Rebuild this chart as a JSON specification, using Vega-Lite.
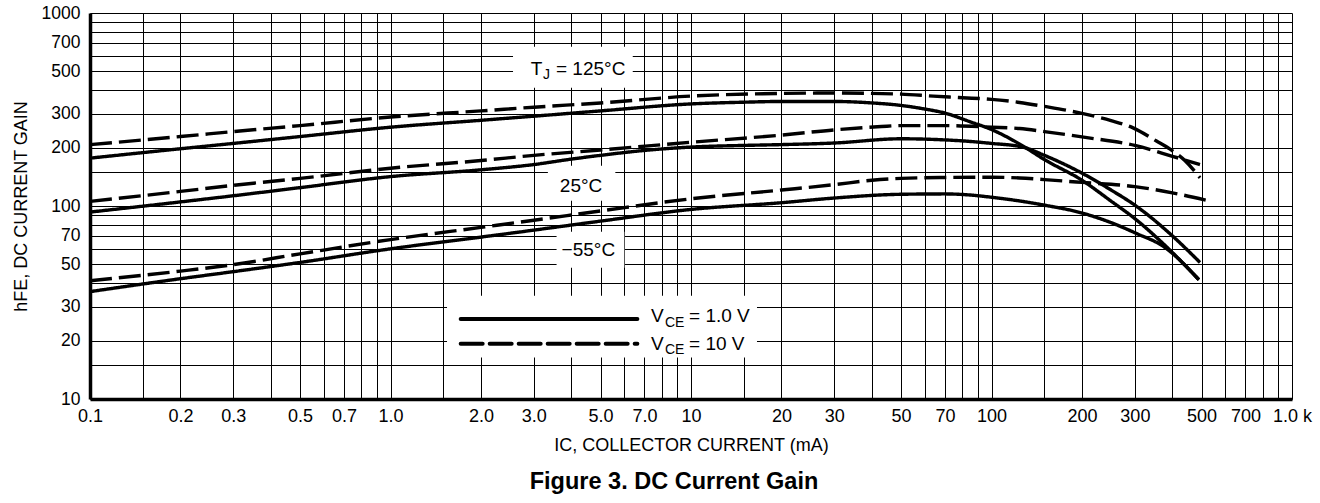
{
  "$schema": "https://vega.github.io/schema/vega-lite/v6.json",
  "width": 1202,
  "height": 386,
  "autosize": {"type": "none"},
  "padding": {"left": 90, "top": 13, "right": 28, "bottom": 104},
  "background": "white",
  "config": {"view": {"stroke": null}, "font": "Liberation Sans"},
  "title": {
    "text": "Figure 3. DC Current Gain",
    "orient": "bottom",
    "anchor": "middle",
    "font": "Liberation Sans",
    "fontSize": 23.5,
    "fontWeight": "bold",
    "color": "black",
    "offset": 16,
    "dx": -17
  },
  "datasets": {
    "curves": [
      {"temp": "125", "vce": "1.0", "ic": 0.1, "hfe": 177},
      {"temp": "125", "vce": "1.0", "ic": 0.2, "hfe": 198},
      {"temp": "125", "vce": "1.0", "ic": 0.3, "hfe": 211},
      {"temp": "125", "vce": "1.0", "ic": 0.5, "hfe": 229},
      {"temp": "125", "vce": "1.0", "ic": 1, "hfe": 256},
      {"temp": "125", "vce": "1.0", "ic": 2, "hfe": 278},
      {"temp": "125", "vce": "1.0", "ic": 3, "hfe": 292},
      {"temp": "125", "vce": "1.0", "ic": 5, "hfe": 311},
      {"temp": "125", "vce": "1.0", "ic": 10, "hfe": 338},
      {"temp": "125", "vce": "1.0", "ic": 15, "hfe": 345},
      {"temp": "125", "vce": "1.0", "ic": 20, "hfe": 348},
      {"temp": "125", "vce": "1.0", "ic": 30, "hfe": 348},
      {"temp": "125", "vce": "1.0", "ic": 40, "hfe": 342},
      {"temp": "125", "vce": "1.0", "ic": 50, "hfe": 332},
      {"temp": "125", "vce": "1.0", "ic": 60, "hfe": 318},
      {"temp": "125", "vce": "1.0", "ic": 70, "hfe": 303},
      {"temp": "125", "vce": "1.0", "ic": 85, "hfe": 273},
      {"temp": "125", "vce": "1.0", "ic": 100, "hfe": 249},
      {"temp": "125", "vce": "1.0", "ic": 125, "hfe": 208},
      {"temp": "125", "vce": "1.0", "ic": 150, "hfe": 174},
      {"temp": "125", "vce": "1.0", "ic": 200, "hfe": 136},
      {"temp": "125", "vce": "1.0", "ic": 250, "hfe": 106},
      {"temp": "125", "vce": "1.0", "ic": 300, "hfe": 86},
      {"temp": "125", "vce": "1.0", "ic": 380, "hfe": 62},
      {"temp": "125", "vce": "1.0", "ic": 490, "hfe": 41.5},

      {"temp": "125", "vce": "10", "ic": 0.1, "hfe": 208},
      {"temp": "125", "vce": "10", "ic": 0.2, "hfe": 229},
      {"temp": "125", "vce": "10", "ic": 0.3, "hfe": 243},
      {"temp": "125", "vce": "10", "ic": 0.5, "hfe": 261},
      {"temp": "125", "vce": "10", "ic": 1, "hfe": 289},
      {"temp": "125", "vce": "10", "ic": 2, "hfe": 311},
      {"temp": "125", "vce": "10", "ic": 3, "hfe": 325},
      {"temp": "125", "vce": "10", "ic": 5, "hfe": 342},
      {"temp": "125", "vce": "10", "ic": 10, "hfe": 371},
      {"temp": "125", "vce": "10", "ic": 20, "hfe": 383},
      {"temp": "125", "vce": "10", "ic": 30, "hfe": 385},
      {"temp": "125", "vce": "10", "ic": 50, "hfe": 380},
      {"temp": "125", "vce": "10", "ic": 64, "hfe": 371},
      {"temp": "125", "vce": "10", "ic": 80, "hfe": 364},
      {"temp": "125", "vce": "10", "ic": 100, "hfe": 357},
      {"temp": "125", "vce": "10", "ic": 124, "hfe": 344},
      {"temp": "125", "vce": "10", "ic": 150, "hfe": 328},
      {"temp": "125", "vce": "10", "ic": 200, "hfe": 302},
      {"temp": "125", "vce": "10", "ic": 250, "hfe": 277},
      {"temp": "125", "vce": "10", "ic": 296, "hfe": 254},
      {"temp": "125", "vce": "10", "ic": 354, "hfe": 217},
      {"temp": "125", "vce": "10", "ic": 393, "hfe": 197},
      {"temp": "125", "vce": "10", "ic": 440, "hfe": 172},
      {"temp": "125", "vce": "10", "ic": 494, "hfe": 140},

      {"temp": "25", "vce": "1.0", "ic": 0.1, "hfe": 93},
      {"temp": "25", "vce": "1.0", "ic": 0.2, "hfe": 105},
      {"temp": "25", "vce": "1.0", "ic": 0.3, "hfe": 113},
      {"temp": "25", "vce": "1.0", "ic": 0.5, "hfe": 124.5},
      {"temp": "25", "vce": "1.0", "ic": 1, "hfe": 142},
      {"temp": "25", "vce": "1.0", "ic": 2, "hfe": 154},
      {"temp": "25", "vce": "1.0", "ic": 3, "hfe": 164},
      {"temp": "25", "vce": "1.0", "ic": 4, "hfe": 175},
      {"temp": "25", "vce": "1.0", "ic": 5, "hfe": 183},
      {"temp": "25", "vce": "1.0", "ic": 7, "hfe": 194},
      {"temp": "25", "vce": "1.0", "ic": 10, "hfe": 202},
      {"temp": "25", "vce": "1.0", "ic": 15, "hfe": 206},
      {"temp": "25", "vce": "1.0", "ic": 20, "hfe": 208},
      {"temp": "25", "vce": "1.0", "ic": 30, "hfe": 212},
      {"temp": "25", "vce": "1.0", "ic": 50, "hfe": 223},
      {"temp": "25", "vce": "1.0", "ic": 70, "hfe": 220},
      {"temp": "25", "vce": "1.0", "ic": 85, "hfe": 216},
      {"temp": "25", "vce": "1.0", "ic": 100, "hfe": 211},
      {"temp": "25", "vce": "1.0", "ic": 127, "hfe": 202},
      {"temp": "25", "vce": "1.0", "ic": 150, "hfe": 183},
      {"temp": "25", "vce": "1.0", "ic": 200, "hfe": 148},
      {"temp": "25", "vce": "1.0", "ic": 250, "hfe": 121},
      {"temp": "25", "vce": "1.0", "ic": 300, "hfe": 101},
      {"temp": "25", "vce": "1.0", "ic": 400, "hfe": 70},
      {"temp": "25", "vce": "1.0", "ic": 494, "hfe": 51},

      {"temp": "25", "vce": "10", "ic": 0.1, "hfe": 105.6},
      {"temp": "25", "vce": "10", "ic": 0.2, "hfe": 119},
      {"temp": "25", "vce": "10", "ic": 0.3, "hfe": 128},
      {"temp": "25", "vce": "10", "ic": 0.5, "hfe": 139},
      {"temp": "25", "vce": "10", "ic": 1, "hfe": 157},
      {"temp": "25", "vce": "10", "ic": 2, "hfe": 172},
      {"temp": "25", "vce": "10", "ic": 3, "hfe": 183},
      {"temp": "25", "vce": "10", "ic": 5, "hfe": 195},
      {"temp": "25", "vce": "10", "ic": 10, "hfe": 214},
      {"temp": "25", "vce": "10", "ic": 20, "hfe": 233},
      {"temp": "25", "vce": "10", "ic": 30, "hfe": 248},
      {"temp": "25", "vce": "10", "ic": 43, "hfe": 258},
      {"temp": "25", "vce": "10", "ic": 50, "hfe": 261},
      {"temp": "25", "vce": "10", "ic": 70, "hfe": 261},
      {"temp": "25", "vce": "10", "ic": 100, "hfe": 256},
      {"temp": "25", "vce": "10", "ic": 124, "hfe": 252},
      {"temp": "25", "vce": "10", "ic": 150, "hfe": 243},
      {"temp": "25", "vce": "10", "ic": 200, "hfe": 228},
      {"temp": "25", "vce": "10", "ic": 300, "hfe": 206},
      {"temp": "25", "vce": "10", "ic": 400, "hfe": 181},
      {"temp": "25", "vce": "10", "ic": 494, "hfe": 164},

      {"temp": "-55", "vce": "1.0", "ic": 0.1, "hfe": 36},
      {"temp": "-55", "vce": "1.0", "ic": 0.2, "hfe": 42},
      {"temp": "-55", "vce": "1.0", "ic": 0.3, "hfe": 45.7},
      {"temp": "-55", "vce": "1.0", "ic": 0.5, "hfe": 51},
      {"temp": "-55", "vce": "1.0", "ic": 1, "hfe": 60},
      {"temp": "-55", "vce": "1.0", "ic": 2, "hfe": 69},
      {"temp": "-55", "vce": "1.0", "ic": 3, "hfe": 75},
      {"temp": "-55", "vce": "1.0", "ic": 5, "hfe": 83.5},
      {"temp": "-55", "vce": "1.0", "ic": 10, "hfe": 96},
      {"temp": "-55", "vce": "1.0", "ic": 20, "hfe": 104},
      {"temp": "-55", "vce": "1.0", "ic": 30, "hfe": 110},
      {"temp": "-55", "vce": "1.0", "ic": 50, "hfe": 115},
      {"temp": "-55", "vce": "1.0", "ic": 70, "hfe": 115.5},
      {"temp": "-55", "vce": "1.0", "ic": 85, "hfe": 114},
      {"temp": "-55", "vce": "1.0", "ic": 100, "hfe": 111},
      {"temp": "-55", "vce": "1.0", "ic": 125, "hfe": 106},
      {"temp": "-55", "vce": "1.0", "ic": 150, "hfe": 101},
      {"temp": "-55", "vce": "1.0", "ic": 200, "hfe": 92},
      {"temp": "-55", "vce": "1.0", "ic": 250, "hfe": 82},
      {"temp": "-55", "vce": "1.0", "ic": 304, "hfe": 72},
      {"temp": "-55", "vce": "1.0", "ic": 373, "hfe": 61.8},
      {"temp": "-55", "vce": "1.0", "ic": 490, "hfe": 41.5},

      {"temp": "-55", "vce": "10", "ic": 0.1, "hfe": 41},
      {"temp": "-55", "vce": "10", "ic": 0.2, "hfe": 46},
      {"temp": "-55", "vce": "10", "ic": 0.3, "hfe": 49.7},
      {"temp": "-55", "vce": "10", "ic": 0.5, "hfe": 56.5},
      {"temp": "-55", "vce": "10", "ic": 1, "hfe": 67},
      {"temp": "-55", "vce": "10", "ic": 2, "hfe": 77.5},
      {"temp": "-55", "vce": "10", "ic": 3, "hfe": 84.4},
      {"temp": "-55", "vce": "10", "ic": 5, "hfe": 94.3},
      {"temp": "-55", "vce": "10", "ic": 10, "hfe": 109},
      {"temp": "-55", "vce": "10", "ic": 20, "hfe": 121},
      {"temp": "-55", "vce": "10", "ic": 30, "hfe": 129},
      {"temp": "-55", "vce": "10", "ic": 40, "hfe": 136},
      {"temp": "-55", "vce": "10", "ic": 50, "hfe": 139},
      {"temp": "-55", "vce": "10", "ic": 70, "hfe": 140.5},
      {"temp": "-55", "vce": "10", "ic": 100, "hfe": 141},
      {"temp": "-55", "vce": "10", "ic": 124, "hfe": 139.7},
      {"temp": "-55", "vce": "10", "ic": 150, "hfe": 137},
      {"temp": "-55", "vce": "10", "ic": 200, "hfe": 132.5},
      {"temp": "-55", "vce": "10", "ic": 300, "hfe": 126},
      {"temp": "-55", "vce": "10", "ic": 400, "hfe": 117},
      {"temp": "-55", "vce": "10", "ic": 520, "hfe": 107}
    ],
    "boxes": [
      {"name": "tj", "ic": 2.557, "ic2": 6.4, "hfe": 410, "hfe2": 669},
      {"name": "t25", "ic": 3.34, "ic2": 5.6, "hfe": 106.5, "hfe2": 161.8},
      {"name": "tm55", "ic": 3.57, "ic2": 6.0, "hfe": 47.9, "hfe2": 73.6},
      {"name": "legend", "ic": 1.542, "ic2": 16.58, "hfe": 16.4, "hfe2": 34.3}
    ],
    "legendlines": [
      {"vce": "1.0", "ic": 1.712, "hfe": 25.97},
      {"vce": "1.0", "ic": 6.63, "hfe": 25.97},
      {"vce": "10", "ic": 1.712, "hfe": 19.34},
      {"vce": "10", "ic": 6.63, "hfe": 19.34}
    ],
    "labels": [
      {"label": "T", "ic": 2.93, "hfe": 479},
      {"label": "= 125°C", "ic": 3.554, "hfe": 479},
      {"label": "25°C", "ic": 3.66, "hfe": 117.6},
      {"label": "−55°C", "ic": 3.71, "hfe": 54.8},
      {"label": "V", "ic": 7.36, "hfe": 24.94},
      {"label": "= 1.0 V", "ic": 9.85, "hfe": 24.94},
      {"label": "V", "ic": 7.36, "hfe": 18.0},
      {"label": "= 10 V", "ic": 9.85, "hfe": 18.0}
    ],
    "subs": [
      {"label": "J", "ic": 3.218, "hfe": 454},
      {"label": "CE", "ic": 8.19, "hfe": 23.69},
      {"label": "CE", "ic": 8.19, "hfe": 17.07}
    ]
  },
  "layer": [
    {
      "data": {"name": "boxes"},
      "mark": {"type": "rect", "color": "white", "strokeWidth": 0},
      "encoding": {
        "x": {
          "field": "ic",
          "type": "quantitative",
          "scale": {"type": "log", "domain": [0.1, 1000], "nice": false, "zero": false},
          "axis": {
            "title": "IC, COLLECTOR CURRENT (mA)",
            "values": [0.1, 0.15, 0.2, 0.3, 0.4, 0.5, 0.6, 0.7, 0.8, 0.9, 1, 1.5, 2, 3, 4, 5, 6, 7, 8, 9, 10, 15, 20, 30, 40, 50, 60, 70, 80, 90, 100, 150, 200, 300, 400, 500, 600, 700, 800, 900, 1000],
            "labelExpr": "indexof([0.1,0.2,0.3,0.5,0.7,1,2,3,5,7], datum.value) >= 0 ? format(datum.value, '.1f') : indexof([10,20,30,50,70,100,200,300,500,700], datum.value) >= 0 ? format(datum.value, 'd') : datum.value == 1000 ? '1.0 k' : ''",
            "grid": true,
            "gridColor": "black",
            "gridWidth": 1,
            "gridOpacity": 1,
            "ticks": false,
            "domainColor": "black",
            "domainWidth": 3.5,
            "labelFont": "Liberation Sans",
            "labelFontSize": 18,
            "labelColor": "black",
            "labelPadding": 8,
            "labelOverlap": false,
            "labelFlush": false,
            "titleFont": "Liberation Sans",
            "titleFontSize": 18,
            "titleFontWeight": "normal",
            "titleColor": "black",
            "titlePadding": 11
          }
        },
        "x2": {"field": "ic2"},
        "y": {
          "field": "hfe",
          "type": "quantitative",
          "scale": {"type": "log", "domain": [10, 1000], "nice": false, "zero": false},
          "axis": {
            "title": "hFE, DC CURRENT GAIN",
            "values": [10, 15, 20, 30, 40, 50, 60, 70, 80, 90, 100, 150, 200, 300, 400, 500, 600, 700, 800, 900, 1000],
            "labelExpr": "indexof([10,20,30,50,70,100,200,300,500,700,1000], datum.value) >= 0 ? format(datum.value, 'd') : ''",
            "grid": true,
            "gridColor": "black",
            "gridWidth": 1,
            "gridOpacity": 1,
            "ticks": false,
            "domainColor": "black",
            "domainWidth": 3.5,
            "labelFont": "Liberation Sans",
            "labelFontSize": 17.5,
            "labelColor": "black",
            "labelPadding": 10,
            "labelOverlap": false,
            "labelFlush": false,
            "titleFont": "Liberation Sans",
            "titleFontSize": 18,
            "titleFontWeight": "normal",
            "titleColor": "black",
            "titlePadding": 11
          }
        },
        "y2": {"field": "hfe2"}
      }
    },
    {
      "data": {"name": "curves"},
      "mark": {"type": "line", "color": "black", "strokeWidth": 3.4, "interpolate": "monotone"},
      "encoding": {
        "x": {"field": "ic", "type": "quantitative"},
        "y": {"field": "hfe", "type": "quantitative"},
        "detail": {"field": "temp"},
        "strokeDash": {
          "field": "vce",
          "type": "nominal",
          "scale": {"domain": ["1.0", "10"], "range": [[1, 0], [22, 7]]},
          "legend": null
        }
      }
    },
    {
      "data": {"name": "legendlines"},
      "mark": {"type": "line", "color": "black", "strokeWidth": 4, "strokeCap": "round"},
      "encoding": {
        "x": {"field": "ic", "type": "quantitative"},
        "y": {"field": "hfe", "type": "quantitative"},
        "strokeDash": {
          "field": "vce",
          "type": "nominal",
          "scale": {"domain": ["1.0", "10"], "range": [[1, 0], [20, 10]]},
          "legend": null
        }
      }
    },
    {
      "data": {"name": "labels"},
      "mark": {"type": "text", "align": "left", "baseline": "alphabetic", "font": "Liberation Sans", "fontSize": 19, "color": "black"},
      "encoding": {
        "x": {"field": "ic", "type": "quantitative"},
        "y": {"field": "hfe", "type": "quantitative"},
        "text": {"field": "label"}
      }
    },
    {
      "data": {"name": "subs"},
      "mark": {"type": "text", "align": "left", "baseline": "alphabetic", "font": "Liberation Sans", "fontSize": 14, "color": "black"},
      "encoding": {
        "x": {"field": "ic", "type": "quantitative"},
        "y": {"field": "hfe", "type": "quantitative"},
        "text": {"field": "label"}
      }
    }
  ]
}
